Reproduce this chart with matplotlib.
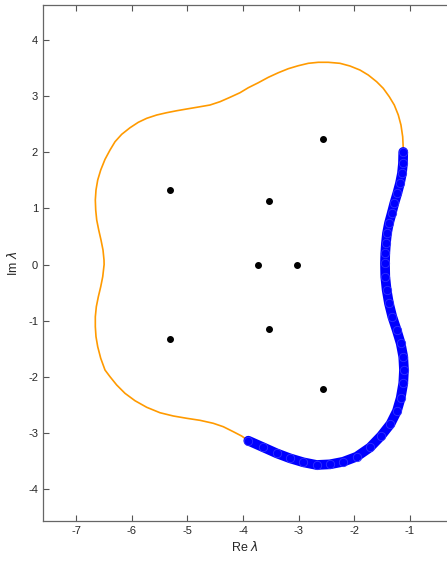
import matplotlib
matplotlib.use("Agg")
import matplotlib.pyplot as plt

plt.rcParams['font.family'] = ['Liberation Sans', 'DejaVu Sans']
plt.rcParams['axes.unicode_minus'] = False

# orange part of the boundary (top, left side, lower left)
orange_re = [-1.121, -1.121, -1.131, -1.162, -1.210, -1.282, -1.372, -1.480, -1.599,
             -1.749, -1.898, -2.078, -2.258, -2.468, -2.648, -2.827, -3.007, -3.186,
             -3.366, -3.546, -3.725, -3.905, -4.054, -4.234, -4.413, -4.593, -4.832,
             -5.011, -5.191, -5.371, -5.550, -5.730, -5.881, -6.030, -6.179, -6.299,
             -6.389, -6.479, -6.556, -6.610, -6.641, -6.653, -6.646, -6.628, -6.592,
             -6.551, -6.515, -6.497, -6.495, -6.520, -6.556, -6.599, -6.635, -6.653,
             -6.653, -6.641, -6.610, -6.556, -6.479, -6.389, -6.269, -6.120, -5.940,
             -5.730, -5.491, -5.252, -5.011, -4.773, -4.534, -4.354, -4.174, -4.024,
             -3.905]
orange_im = [2.006, 2.070, 2.277, 2.485, 2.664, 2.842, 2.990, 3.139, 3.257,
             3.376, 3.465, 3.537, 3.585, 3.603, 3.603, 3.585, 3.542, 3.489,
             3.417, 3.335, 3.239, 3.150, 3.061, 2.979, 2.901, 2.842, 2.801,
             2.771, 2.740, 2.705, 2.664, 2.605, 2.534, 2.437, 2.320, 2.188,
             2.040, 1.874, 1.684, 1.506, 1.327, 1.149, 0.971, 0.793, 0.615,
             0.437, 0.258, 0.080, 0.000, -0.217, -0.396, -0.574, -0.752, -0.930,
             -1.108, -1.286, -1.465, -1.671, -1.880, -1.999, -2.147, -2.295, -2.427,
             -2.544, -2.641, -2.699, -2.740, -2.776, -2.829, -2.890, -2.979, -3.056,
             -3.139]

# blue part (bottom and right side)
blue_re = [-3.905, -3.636, -3.395, -3.156, -2.917, -2.676, -2.437, -2.198, -1.958,
           -1.719, -1.521, -1.351, -1.234, -1.167, -1.121, -1.108, -1.121, -1.167,
           -1.239, -1.318, -1.378, -1.419, -1.444, -1.449, -1.444, -1.432, -1.413,
           -1.378, -1.329, -1.282, -1.228, -1.180, -1.144, -1.126, -1.121]
blue_im = [-3.139, -3.257, -3.364, -3.453, -3.524, -3.572, -3.560, -3.514, -3.424,
           -3.260, -3.056, -2.842, -2.610, -2.379, -2.117, -1.880, -1.643, -1.404,
           -1.167, -0.930, -0.691, -0.454, -0.217, 0.021, 0.200, 0.378, 0.556,
           0.734, 0.912, 1.090, 1.269, 1.447, 1.625, 1.803, 2.006]

# eigenvalues
eig_re = [-5.31, -5.31, -3.54, -3.54, -3.73, -3.03, -2.57, -2.57]
eig_im = [1.33, -1.33, 1.14, -1.15, 0.0, 0.0, 2.24, -2.22]

xticks = [-7, -6, -5, -4, -3, -2, -1]
yticks = [-4, -3, -2, -1, 0, 1, 2, 3, 4]

fig = plt.figure(figsize=(4.47, 5.64), dpi=100)
ax = fig.add_axes([43/447, 43/564, 404/447, 516/564])

ax.plot(orange_re, orange_im, color='#FF9A00', lw=1.2, zorder=2)
ax.plot(blue_re, blue_im, color='blue', lw=7, solid_capstyle='round',
        solid_joinstyle='round', zorder=3)
ax.plot(blue_re, blue_im, 'o', ms=6, mfc='none', mec='#3030ff', mew=0.6, zorder=4)
ax.plot(eig_re, eig_im, 'o', color='black', ms=4, zorder=5)

ax.set_xlim(-7.593, -0.335)
ax.set_ylim(-4.57, 4.624)
ax.set_xticks(xticks)
ax.set_yticks(yticks)
ax.tick_params(direction='in', length=4, width=0.8, colors='#555555',
               labelcolor='#262626', labelsize=8, top=True, right=False)
for s in ['left', 'bottom', 'top']:
    ax.spines[s].set_color('#666666')
    ax.spines[s].set_linewidth(0.9)
ax.spines['right'].set_visible(False)

ax.set_xlabel(r'Re $\lambda$', fontsize=9, color='#262626', labelpad=3)
ax.set_ylabel(r'Im $\lambda$', fontsize=9, color='#262626', labelpad=6)

fig.savefig('out.png', dpi=100)
